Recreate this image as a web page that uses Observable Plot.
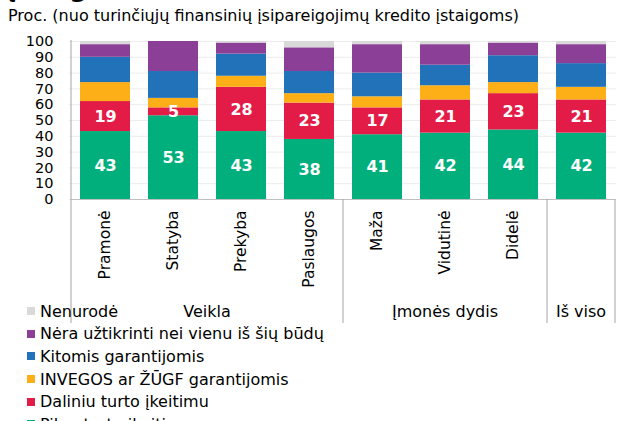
<!DOCTYPE html>
<html>
<head>
<meta charset="utf-8">
<script src="https://cdn.jsdelivr.net/npm/d3@7"></script>
<script src="https://cdn.jsdelivr.net/npm/@observablehq/plot@0.6"></script>
<style>
  html, body { margin: 0; padding: 0; background: #fff; }
  #wrap { position: relative; width: 621px; height: 421px; overflow: hidden; font-family: "DejaVu Sans", Verdana, sans-serif; color: #000; }
  #title { position: absolute; left: 6px; top: -28px; font-size: 26px; font-weight: bold; line-height: 30px; white-space: nowrap; }
  #subtitle { position: absolute; left: 8px; top: 6px; font-size: 16px; line-height: 20px; white-space: nowrap; }
  #chart { position: absolute; left: 0; top: 26px; }
  #legend { position: absolute; left: 0; top: 300px; }
  .item { position: relative; height: 22.6px; display: flex; align-items: center; font-size: 16px; white-space: nowrap; }
  .sw { width: 8px; height: 8px; margin-left: 27px; margin-right: 5px; flex: none; }
</style>
</head>
<body>
<div id="wrap">
  <div id="title">įstaigoms</div>
  <div id="subtitle">Proc. (nuo turinčiųjų finansinių įsipareigojimų kredito įstaigoms)</div>
  <div id="chart"></div>
  <div id="legend"></div>
</div>
<script>
// ---- data ----
const categories = ["Pramonė", "Statyba", "Prekyba", "Paslaugos", "Maža", "Vidutinė", "Didelė", "Iš viso"];
const tickLabels = ["Pramonė", "Statyba", "Prekyba", "Paslaugos", "Maža", "Vidutinė", "Didelė", ""];
const groups = ["Veikla", "Įmonės dydis", "Iš viso"];
const groupOf = ["Veikla", "Veikla", "Veikla", "Veikla", "Įmonės dydis", "Įmonės dydis", "Įmonės dydis", "Iš viso"];
const seriesNames = ["Pilnu turto įkeitimu", "Daliniu turto įkeitimu", "INVEGOS ar ŽŪGF garantijomis", "Kitomis garantijomis", "Nėra užtikrinti nei vienu iš šių būdų", "Nenurodė"];
const seriesColors = ["#00af7c", "#e31c47", "#fdaf17", "#2272b9", "#8b3f96", "#d9d9d9"];
const pilnu    = [43, 53, 43, 38, 41, 42, 44, 42];
const daliniu  = [19,  5, 28, 23, 17, 21, 23, 21];
const invegos  = [12,  6,  7,  6,  7,  9,  7,  8];
const kitomis  = [16, 17, 14, 14, 15, 13, 17, 15];
const nera     = [ 8, 19,  7, 15, 18, 13,  8, 12];
const nenurode = [ 2,  0,  1,  4,  2,  2,  1,  2];
const labeledSeries = ["Pilnu turto įkeitimu", "Daliniu turto įkeitimu"];
const yTicks = [0, 10, 20, 30, 40, 50, 60, 70, 80, 90, 100];

const seriesValues = [pilnu, daliniu, invegos, kitomis, nera, nenurode];
const rows = [];
categories.forEach((c, i) => {
  seriesNames.forEach((s, j) => rows.push({cat: c, series: s, value: seriesValues[j][i]}));
});

const font = "DejaVu Sans, Verdana, sans-serif";

const chart = Plot.plot({
  width: 621,
  height: 300,
  marginTop: 15,
  marginBottom: 127,
  marginLeft: 69,
  marginRight: 5,
  style: {fontFamily: font, fontSize: "15px", color: "#000", background: "transparent", overflow: "visible"},
  x: {domain: categories, paddingInner: 0.27, paddingOuter: 0.135, label: null},
  y: {domain: [0, 100], label: null},
  color: {domain: seriesNames, range: seriesColors},
  marks: [
    Plot.ruleY(yTicks, {stroke: "#ececec", strokeWidth: 1}),
    Plot.barY(rows, {x: "cat", y: "value", z: "series", fill: "series"}),
    Plot.text(rows, Plot.stackY({
      x: "cat", y: "value", z: "series",
      text: d => labeledSeries.includes(d.series) ? String(d.value) : "",
      fill: "white", fontWeight: "bold", fontSize: 16
    })),
    Plot.axisY({ticks: yTicks, tickSize: 0, tickPadding: 16, fontSize: 14.5, label: null}),
    Plot.axisX({tickSize: 0, tickPadding: 11, tickRotate: -90, fontSize: 15.5, label: null,
      tickFormat: d => tickLabels[categories.indexOf(d)]})
  ]
});
document.getElementById("chart").appendChild(chart);

// ---- frame lines, group separators and group labels from Plot's scales ----
const xs = chart.scale("x");
const ys = chart.scale("y");
const svg = d3.select(chart);
const gap = xs.step - xs.bandwidth;
const y0 = ys.apply(0);
const yTop = ys.apply(100) - 1;
const yBottom = 297;
const leftX = xs.apply(categories[0]) - gap / 2;
const rightX = xs.apply(categories[categories.length - 1]) + xs.bandwidth + gap / 2;

const g = svg.append("g");
g.append("line").attr("x1", leftX).attr("x2", rightX).attr("y1", y0 + 0.5).attr("y2", y0 + 0.5)
  .attr("stroke", "#bfbfbf");
g.append("line").attr("x1", leftX).attr("x2", leftX).attr("y1", yTop).attr("y2", yBottom)
  .attr("stroke", "#a6a6a6");

groups.forEach(grp => {
  const cats = categories.filter((c, i) => groupOf[i] === grp);
  const gx0 = xs.apply(cats[0]) - gap / 2;
  const gx1 = xs.apply(cats[cats.length - 1]) + xs.bandwidth + gap / 2;
  g.append("line").attr("x1", gx1).attr("x2", gx1).attr("y1", y0).attr("y2", yBottom)
    .attr("stroke", "#a6a6a6");
  g.append("text").attr("x", (gx0 + gx1) / 2).attr("y", 286)
    .attr("text-anchor", "middle").attr("dominant-baseline", "middle")
    .attr("font-family", font).attr("font-size", 16).attr("fill", "#000")
    .text(grp);
});

// ---- legend (HTML, below the svg) ----
const legend = d3.select("#legend");
seriesNames.slice().reverse().forEach(s => {
  const it = legend.append("div").attr("class", "item");
  it.append("div").attr("class", "sw").style("background", seriesColors[seriesNames.indexOf(s)]);
  it.append("span").text(s);
});
</script>
</body>
</html>
